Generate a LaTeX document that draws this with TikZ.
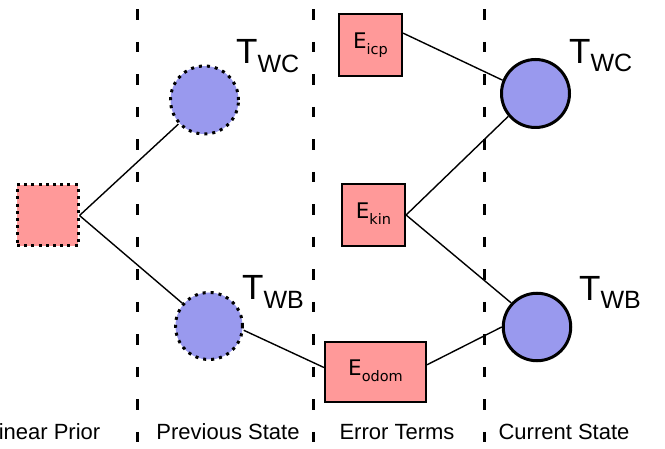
\documentclass[tikz,border=0pt]{standalone}
\usepackage{fontspec}
\setmainfont{Liberation Sans}
\newfontfamily\efont{DejaVu Sans}
\definecolor{pinkfill}{HTML}{FF9999}
\definecolor{bluefill}{HTML}{9999EE}
\newcommand{\Tlab}[1]{{\fontsize{35}{35}\selectfont T}\raisebox{-8.5pt}{\fontsize{25}{25}\selectfont #1}}
\newcommand{\Elab}[1]{\efont{\fontsize{21.5}{21.5}\selectfont E}\raisebox{-5.5pt}{\fontsize{14.5}{14.5}\selectfont #1\vphantom{p}}}
\tikzset{
  sep/.style={line width=3pt, dash pattern=on 10.5pt off 22pt},
  prevstate/.style={circle, fill=bluefill, draw=black, line width=3pt, dash pattern=on 3pt off 5pt, inner sep=0pt},
  curstate/.style={circle, fill=bluefill, draw=black, line width=3pt, inner sep=0pt},
  errbox/.style={rectangle, fill=pinkfill, draw=black, line width=2.2pt, inner sep=0pt},
  priorbox/.style={rectangle, fill=pinkfill, draw=black, line width=3pt, dash pattern=on 3pt off 4.2pt, inner sep=0pt},
  conn/.style={line width=1.4pt},
  tlabel/.style={inner sep=0pt, anchor=base west},
  collabel/.style={inner sep=0pt, anchor=base, font=\fontsize{22}{22}\selectfont},
}
\begin{document}
\begin{tikzpicture}[x=1pt, y=-1pt]
\useasboundingbox (0,0) rectangle (665,449);
% separators
\coordinate (s1t) at (137.5,9.5); \coordinate (s1b) at (137.5,442);
\coordinate (s2t) at (313,9.5);   \coordinate (s2b) at (313,442);
\coordinate (s3t) at (484.5,9.5); \coordinate (s3b) at (484.5,442);
\draw[sep] (s1t) -- (s1b);
\draw[sep] (s2t) -- (s2b);
\draw[sep] (s3t) -- (s3b);
% nodes
\node[priorbox, minimum width=61pt, minimum height=61pt] (prior) at (47.5,215.5) {};
\node[prevstate, minimum size=68pt] (prevwc) at (204.5,100) {};
\node[prevstate, minimum size=67pt] (prevwb) at (209,326) {};
\node[curstate, minimum size=68pt] (curwc) at (535.5,93.5) {};
\node[curstate, minimum size=67.5pt] (curwb) at (537,327) {};
\node[errbox, minimum width=63pt, minimum height=62pt] (eicp) at (370.5,45) {\Elab{icp}};
\node[errbox, minimum width=63pt, minimum height=62pt] (ekin) at (373.5,215) {\Elab{kin}};
\node[errbox, minimum width=101pt, minimum height=60pt] (eodom) at (375.5,372) {\Elab{odom}};
% connectors
\draw[conn] (prior.east) -- (prevwc);
\draw[conn] (prior.east) -- (prevwb);
\draw[conn] (prevwb.-7) -- (eodom.175);
\draw[conn] (eodom.8) -- (curwb.west);
\draw[conn] (eicp.20) -- (curwc.158);
\draw[conn] (ekin.east) -- (curwc.220);
\draw[conn] (ekin.east) -- (curwb.137);
% state labels
\node[tlabel] (l1) at (236,64) {\Tlab{WC}};
\node[tlabel] (l2) at (242,300) {\Tlab{WB}};
\node[tlabel] (l3) at (569,63.5) {\Tlab{WC}};
\node[tlabel] (l4) at (579,300.5) {\Tlab{WB}};
% column labels
\node[collabel, anchor=base east] (c1) at (100.5,440) {Linear Prior};
\node[collabel] (c2) at (228,440) {Previous State};
\node[collabel] (c3) at (397,440) {Error Terms};
\node[collabel] (c4) at (564,440) {Current State};
\end{tikzpicture}
\end{document}
